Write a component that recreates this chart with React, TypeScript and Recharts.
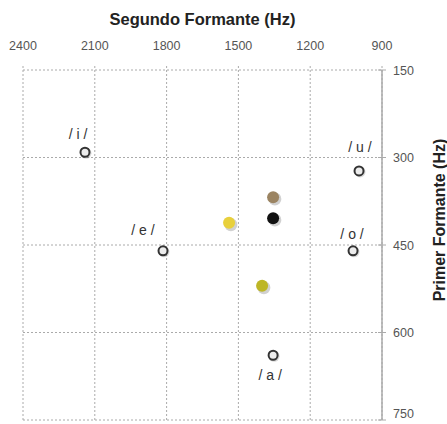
import { ScatterChart, Scatter, XAxis, YAxis, CartesianGrid, Label, Cell } from 'recharts';

const xTicks = [2400, 2100, 1800, 1500, 1200, 900];
const yTicks = [150, 300, 450, 600, 750];

const vowels = ['/ i /', '/ e /', '/ a /', '/ o /', '/ u /'];
const vowelF2 = [2141, 1815, 1355, 1021, 996];
const vowelF1 = [291, 460, 639, 460, 323];

const sampleF2 = [1355, 1355, 1539, 1401];
const sampleF1 = [368, 404, 412, 520];
const sampleColors = ['#9b8462', '#111111', '#e8d03c', '#bdb626'];

const vowelData = vowels.map((name, i) => ({ name, x: vowelF2[i], y: vowelF1[i] }));
const sampleData = sampleF2.map((x, i) => ({ x, y: sampleF1[i] }));

// label offsets relative to the point (style only)
const labelOffset: Record<string, [number, number]> = {
    '/ i /': [-7, -18],
    '/ e /': [-20, -21],
    '/ a /': [-3, 20],
    '/ o /': [-1, -17],
    '/ u /': [1, -24],
};

const font = '"Liberation Sans", Arial, sans-serif';

const XTick = ({ x, y, payload }: any) => (
    <g>
        <line x1={x} x2={x} y1={y - 4} y2={y} stroke="#aaa" strokeDasharray="2 2" />
        <text x={x} y={y - 20} textAnchor="middle" fill="#555" fontSize={12.5} fontFamily={font}>{payload.value}</text>
    </g>
);

const YTick = ({ x, y, payload }: any) => (
    <g>
        <line x1={x - 4} x2={x + 4} y1={y} y2={y} stroke="#aaa" />
        <text x={x + 11} y={Math.min(y + 4.5, 418)} textAnchor="start" fill="#555" fontSize={12.5} fontFamily={font}>{payload.value}</text>
    </g>
);

const VowelShape = ({ cx, cy, payload }: any) => {
    const [dx, dy] = labelOffset[payload.name] || [0, -18];
    return (
        <g>
            <circle cx={cx + 1} cy={cy + 1} r={5.5} fill="rgba(0,0,0,0.15)" />
            <circle cx={cx} cy={cy} r={4.5} fill="#ececec" stroke="#333" strokeWidth={2} />
            <text x={cx + dx} y={cy + dy + 5} textAnchor="middle" fill="#333" fontSize={14} fontFamily={font}>{payload.name}</text>
        </g>
    );
};

const SampleShape = ({ cx, cy, fill }: any) => (
    <g>
        <circle cx={cx + 1.8} cy={cy + 1.8} r={6.5} fill="rgba(0,0,0,0.18)" />
        <circle cx={cx} cy={cy} r={6} fill={fill} />
    </g>
);

export default function App() {
    return (
        <div style={{ position: 'absolute', left: 0, top: 0, background: '#fff' }}>
            <ScatterChart width={447} height={424} margin={{ top: 0, right: 0, bottom: 4, left: 23 }}>
                <CartesianGrid stroke="#aaa" strokeDasharray="2 2" />
                <XAxis type="number" dataKey="x" orientation="top" reversed domain={[900, 2400]} ticks={xTicks} interval={0}
                    axisLine={false} tickLine={false} tickSize={0} tickMargin={0} height={70} tick={<XTick />}>
                    <Label content={({ viewBox }: any) => (
                        <text x={viewBox.x + viewBox.width / 2} y={viewBox.y + 25} textAnchor="middle" fontSize={16.5} fontWeight="bold" fill="#222" fontFamily={font}>Segundo Formante (Hz)</text>
                    )} />
                </XAxis>
                <YAxis type="number" dataKey="y" orientation="right" reversed domain={[150, 750]} ticks={yTicks} interval={0}
                    axisLine={{ stroke: '#aaa', strokeWidth: 1.5 }} tickLine={false} tickSize={0} tickMargin={0} width={65} tick={<YTick />}>
                    <Label content={({ viewBox }: any) => (
                        <text x={viewBox.x + 57} y={220} transform={`rotate(-90 ${viewBox.x + 57} 220)`} textAnchor="middle" dominantBaseline="central" fontSize={16} fontWeight="bold" fill="#222" fontFamily={font}>Primer Formante (Hz)</text>
                    )} />
                </YAxis>
                <Scatter data={vowelData} shape={<VowelShape />} isAnimationActive={false} />
                <Scatter data={sampleData} shape={<SampleShape />} isAnimationActive={false}>
                    {sampleData.map((_, i) => <Cell key={`s-${i}`} fill={sampleColors[i]} />)}
                </Scatter>
            </ScatterChart>
        </div>
    );
}
